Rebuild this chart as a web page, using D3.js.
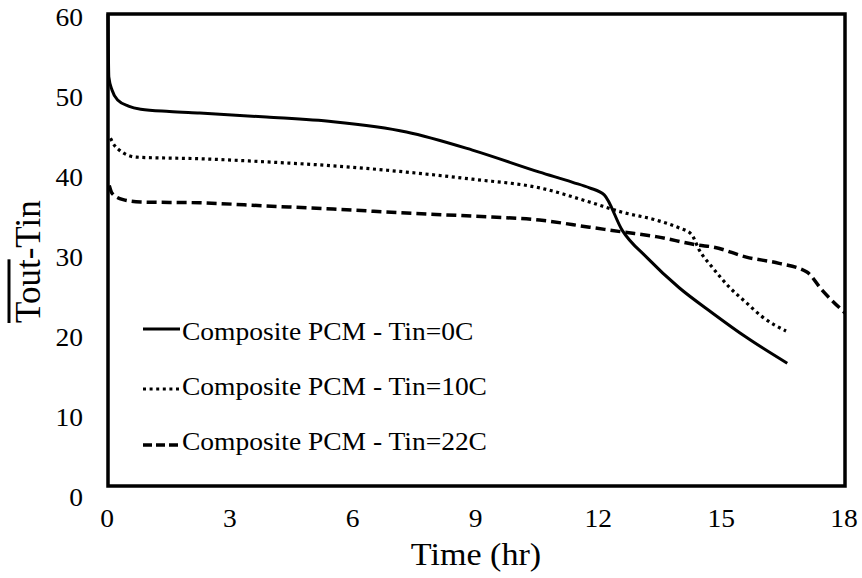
<!DOCTYPE html>
<html>
<head>
<meta charset="utf-8">
<script src="https://cdn.jsdelivr.net/npm/d3@7"></script>
<style>
  html, body { margin: 0; padding: 0; background: #fff; }
  svg { display: block; }
</style>
</head>
<body>
<svg id="chart" width="862" height="578"></svg>
<script>
// ---- Data ----
const xTicks = [0, 3, 6, 9, 12, 15, 18];
const yTicks = [0, 10, 20, 30, 40, 50, 60];
const seriesNames = ["Composite PCM - Tin=0C", "Composite PCM - Tin=10C", "Composite PCM - Tin=22C"];

const timeTin0 = [0, 0.02, 0.1, 0.25, 0.5, 0.8, 1.5, 2.24, 3.87, 5.5, 7.29, 8.9, 10.54, 11.35, 11.76, 12.12, 12.56, 13.17, 13.95, 14.76, 15.59, 16.59];
const valTin0  = [60, 52, 50.3, 49.0, 48.3, 47.9, 47.6, 47.4, 46.9, 46.3, 45.0, 42.7, 39.9, 38.6, 37.9, 37.0, 32.5, 29.0, 25.2, 22.0, 18.9, 15.6];

const timeTin10 = [0.06, 0.12, 0.3, 0.7, 2.24, 3.87, 5.5, 7.29, 8.9, 10.54, 11.76, 12.56, 13.39, 13.95, 14.25, 14.44, 14.76, 15.17, 15.59, 15.98, 16.56];
const valTin10  = [44.2, 43.6, 42.6, 41.8, 41.6, 41.2, 40.7, 39.9, 39.0, 37.9, 36.1, 34.8, 33.8, 32.8, 32.0, 30.0, 27.8, 25.3, 23.3, 21.5, 19.7];

const timeTin22 = [0.03, 0.1, 0.37, 0.8, 2.24, 3.87, 5.5, 7.29, 8.9, 10.54, 11.76, 12.56, 13.39, 14.44, 14.76, 15.59, 16.39, 17.07, 17.44, 18.0];
const valTin22  = [38.2, 37.2, 36.4, 36.1, 36.0, 35.6, 35.2, 34.7, 34.3, 33.8, 32.9, 32.3, 31.7, 30.6, 30.4, 29.1, 28.3, 27.2, 24.9, 22.0];

const xTitle = "Time (hr)";
const yTitleOver = "Tout";
const yTitleRest = "-Tin";

// ---- Chart ----
(function () {
const FONT = "Liberation Serif";
const svg = d3.select("#chart");
const pLeft = 108, pRight = 845, pTop = 14, pBottom = 486;

const x = d3.scaleLinear().domain([0, 18]).range([pLeft, pRight]);
const y = d3.scaleLinear().domain([0, 60]).range([pBottom, pTop]);
const yLab = d3.scaleLinear().domain([0, 60]).range([497, 17]);

const series = [
  { name: seriesNames[0], t: timeTin0, v: valTin0, dash: null, w: 3 },
  { name: seriesNames[1], t: timeTin10, v: valTin10, dash: "3,3.6", w: 3.2 },
  { name: seriesNames[2], t: timeTin22, v: valTin22, dash: "10,5", w: 3.5 }
];

const line = d3.line().x(d => x(d[0])).y(d => y(d[1])).curve(d3.curveMonotoneX);

series.forEach(s => {
  const pts = s.t.map((t, i) => [t, s.v[i]]);
  svg.append("path")
    .attr("d", line(pts))
    .attr("fill", "none")
    .attr("stroke", "#000")
    .attr("stroke-width", s.w)
    .attr("stroke-dasharray", s.dash);
});

// frame
svg.append("rect")
  .attr("x", pLeft).attr("y", pTop)
  .attr("width", pRight - pLeft).attr("height", pBottom - pTop)
  .attr("fill", "none").attr("stroke", "#000").attr("stroke-width", 3.5);

// x axis
const gx = svg.append("g").attr("transform", `translate(0,${pBottom})`)
  .call(d3.axisBottom(x).tickValues(xTicks).tickSize(0).tickFormat(d3.format("d")));
gx.attr("font-family", FONT).attr("font-size", 25);
gx.select(".domain").remove();
gx.selectAll(".tick").attr("transform", d => `translate(${x(d) - 1},0)`);
gx.selectAll("text")
  .attr("y", 41).attr("dy", null)
  .attr("font-family", FONT)
  .attr("font-size", 25)
  .attr("fill", "#000")
  .attr("transform", "scale(1.1,1)");

// y axis labels
const gy = svg.append("g").attr("transform", `translate(${pLeft},0)`)
  .call(d3.axisLeft(yLab).tickValues(yTicks).tickSize(0).tickFormat(d3.format("d")));
gy.attr("font-family", FONT).attr("font-size", 25);
gy.select(".domain").remove();
gy.selectAll("text")
  .attr("x", -25 / 1.1).attr("dy", "0.34em")
  .attr("font-family", FONT)
  .attr("font-size", 25)
  .attr("fill", "#000")
  .attr("text-anchor", "end")
  .attr("transform", "scale(1.1,1)");

// x title
svg.append("text")
  .attr("transform", "translate(476,565) scale(1.1,1)")
  .attr("text-anchor", "middle")
  .attr("font-family", FONT)
  .attr("font-size", 31)
  .text(xTitle);

// y title
const yt = svg.append("text")
  .attr("transform", "translate(40,323) rotate(-90)")
  .attr("text-anchor", "start")
  .attr("font-family", FONT)
  .attr("font-size", 35);
yt.append("tspan").text(yTitleOver);
yt.append("tspan").text(yTitleRest);
const overLen = yt.node().getSubStringLength(0, yTitleOver.length);
svg.append("line")
  .attr("x1", 9).attr("x2", 9)
  .attr("y1", 323).attr("y2", 323 - overLen)
  .attr("stroke", "#000").attr("stroke-width", 3);

// legend
const legY = [329, 389, 445];
const legBase = [340, 395, 450];
const legDash = [null, "3,3.6", "9,4"];
series.forEach((s, i) => {
  svg.append("line")
    .attr("x1", 143).attr("x2", 180)
    .attr("y1", legY[i]).attr("y2", legY[i])
    .attr("stroke", "#000").attr("stroke-width", s.w)
    .attr("stroke-dasharray", legDash[i]);
  svg.append("text")
    .attr("transform", `translate(182,${legBase[i]}) scale(1.1,1)`)
    .attr("font-family", FONT)
    .attr("font-size", 25)
    .text(s.name);
});
})();
</script>
</body>
</html>
